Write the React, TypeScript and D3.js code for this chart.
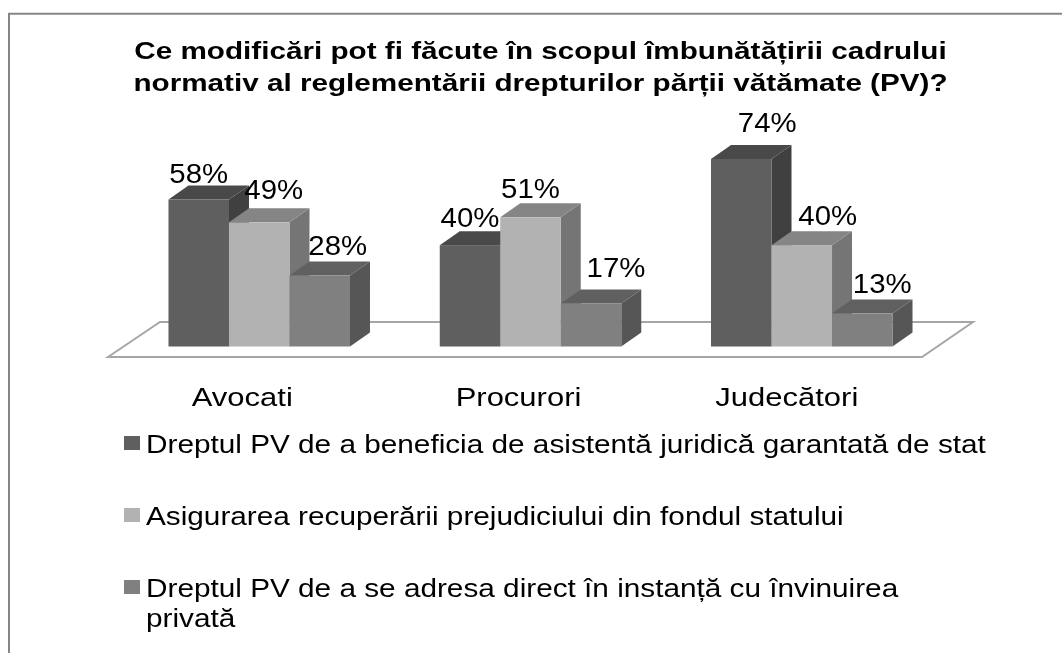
import React from "react";
import * as d3 from "d3";

const categories = ["Avocati", "Procurori", "Judecători"];
const seriesA = [58, 40, 74];
const seriesB = [49, 51, 40];
const seriesC = [28, 17, 13];
const seriesNames = [
  "Dreptul PV de a beneficia de asistentă juridică garantată de stat",
  "Asigurarea recuperării prejudiciului din fondul statului",
  "Dreptul PV de a se adresa direct în instanță cu învinuirea",
];
const lastLegendLine = "privată";
const titleLines = [
  "Ce modificări pot fi făcute în scopul îmbunătățirii cadrului",
  "normativ al reglementării drepturilor părții vătămate (PV)?",
];

// layout only: hand-placed label nudges [dx, baseline gap above the bar top], per series then category
const labelNudge = [
  [[0, 16.5], [0, 18], [26, 27]],
  [[14.5, 23], [0, 19], [26, 20]],
  [[18, 20.5], [25, 26], [20, 20.5]],
];
const categoryNudge = [-17, -12, -15];

const FONT = "'Liberation Sans', Arial, sans-serif";
const series = [seriesA, seriesB, seriesC];
const fronts = ["#5f5f5f", "#b2b2b2", "#808080"];
const tops = ["#4a4a4a", "#858585", "#606060"];
const sides = ["#404040", "#757575", "#565656"];
const DX = 20;
const DY = -14;

function Stretch(props: { x: number; y: number; sx: number; size: number; anchor?: string; bold?: boolean; children: string }) {
  const { x, y, sx, size, anchor, bold, children } = props;
  return (
    <text
      transform={`translate(${x} ${y}) scale(${sx} 1)`}
      textAnchor={anchor ?? "start"}
      fontSize={size}
      fontWeight={bold ? "bold" : "normal"}
      fill="#000"
    >
      {children}
    </text>
  );
}

export default function App() {
  const y = d3.scaleLinear().domain([0, 74]).range([346.5, 159]);
  const x0 = d3.scaleBand<string>().domain(categories).range([123.6, 937.4]);
  const groupW = 181.5;
  const barW = groupW / 3;
  const floor = d3.line()([
    [108, 357],
    [160, 322],
    [973, 322],
    [922, 357],
  ]) + "Z";
  const legendY = [0, 72, 144];

  return (
    <svg
      width={1062}
      height={653}
      style={{ position: "absolute", left: 0, top: 0, background: "#fff" }}
      fontFamily={FONT}
    >
      <defs>
        <filter id="soft" x="-5%" y="-5%" width="110%" height="110%">
          <feGaussianBlur stdDeviation="0.45" />
        </filter>
      </defs>
      <path d="M9 700V13.7H1070" fill="none" stroke="#868686" strokeWidth={2} />
      <g filter="url(#soft)">
        {titleLines.map((t, i) => (
          <Stretch key={t} x={540.5} y={59 + i * 32} sx={1.29} size={23} anchor="middle" bold>
            {t}
          </Stretch>
        ))}
        <path d={floor} fill="#fff" stroke="#a6a6a6" strokeWidth={2} />
        {categories.map((c, ci) => {
          const gx = (x0(c) as number) + (x0.bandwidth() - groupW) / 2;
          return (
            <g key={c}>
              {series.map((s, si) => {
                const v = s[ci];
                const l = gx + si * barW;
                const r = l + barW;
                const t = y(v);
                const b = y(0);
                return (
                  <g key={si}>
                    <path d={`M${r} ${t}L${r + DX} ${t + DY}L${r + DX} ${b + DY}L${r} ${b}Z`} fill={sides[si]} />
                    <path d={`M${l} ${t}L${l + DX} ${t + DY}L${r + DX} ${t + DY}L${r} ${t}Z`} fill={tops[si]} />
                    <rect x={l} y={t} width={barW} height={b - t} fill={fronts[si]} />
                  </g>
                );
              })}
              {series.map((s, si) => (
                <Stretch
                  key={si}
                  x={gx + si * barW + barW / 2 + labelNudge[si][ci][0]}
                  y={y(s[ci]) - labelNudge[si][ci][1]}
                  sx={1.05}
                  size={28}
                  anchor="middle"
                >
                  {`${s[ci]}%`}
                </Stretch>
              ))}
              <Stretch x={gx + groupW / 2 + categoryNudge[ci]} y={406} sx={1.24} size={25} anchor="middle">
                {c}
              </Stretch>
            </g>
          );
        })}
        {seriesNames.map((n, i) => (
          <g key={n}>
            <rect x={124} y={436 + legendY[i]} width={16} height={14} fill={fronts[i]} />
            <Stretch x={146} y={453 + legendY[i]} sx={1.19} size={25}>
              {n}
            </Stretch>
          </g>
        ))}
        <Stretch x={146} y={627} sx={1.19} size={25}>
          {lastLegendLine}
        </Stretch>
      </g>
    </svg>
  );
}
